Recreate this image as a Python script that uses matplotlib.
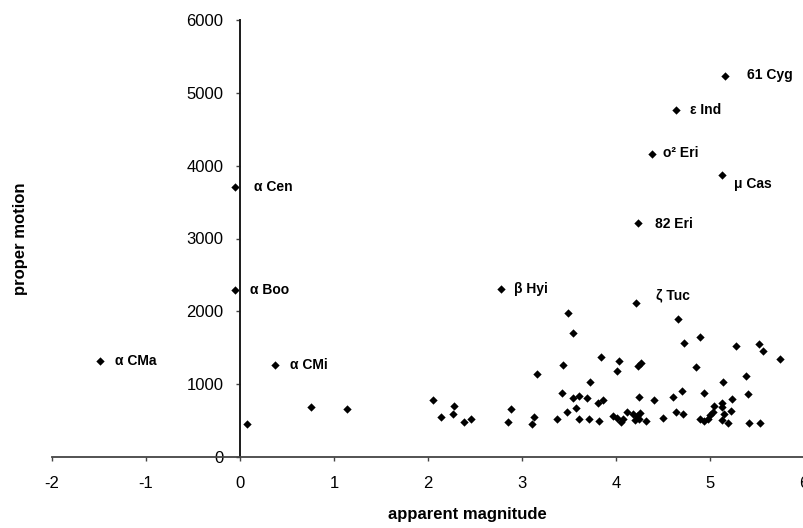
import matplotlib.pyplot as plt

# named stars: apparent magnitude vs proper motion
star_names = ["\u03b1 CMa", "\u03b1 Cen", "\u03b1 Boo", "\u03b1 CMi", "\u03b2 Hyi", "\u03b6 Tuc",
              "61 Cyg", "\u03b5 Ind", "\u03bf\u00b2 Eri", "\u03bc Cas", "82 Eri"]
star_mag = [-1.49, -0.05, -0.05, 0.37, 2.78, 4.21, 5.16, 4.64, 4.38, 5.13, 4.23]
star_pm = [1320, 3710, 2295, 1265, 2305, 2115, 5235, 4765, 4160, 3875, 3215]

# the rest of the sample, unlabelled
other_mag = [0.07, 0.76, 1.14, 2.05, 2.14, 2.28, 2.27, 2.38, 2.46, 2.85, 2.88, 3.16, 3.13, 3.11,
             3.49, 3.54, 3.44, 3.84, 4.03, 4.01, 4.27, 4.23, 4.66, 4.72, 4.89, 4.85, 5.28, 5.52,
             5.56, 5.74, 5.38, 5.14, 5.40, 3.43, 3.54, 3.61, 3.69, 3.57, 3.72, 3.81, 3.86, 3.48,
             3.37, 3.61, 3.71, 3.82, 3.97, 4.01, 4.05, 4.07, 4.12, 4.18, 4.22, 4.20, 4.26, 4.24,
             4.32, 4.24, 4.40, 4.50, 4.61, 4.70, 4.64, 4.71, 4.94, 4.89, 4.94, 4.98, 5.00, 5.03,
             5.04, 5.13, 5.13, 5.15, 5.13, 5.19, 5.22, 5.23, 5.41, 5.53]
other_pm = [455, 685, 660, 785, 550, 700, 590, 480, 520, 480, 660, 1140, 550, 455,
            1980, 1705, 1265, 1375, 1320, 1180, 1290, 1250, 1895, 1565, 1650, 1235, 1525, 1550,
            1455, 1345, 1115, 1030, 865, 880, 810, 840, 810, 675, 1030, 740, 785, 620,
            520, 520, 520, 495, 565, 535, 480, 520, 620, 590, 565, 510, 605, 520,
            495, 825, 785, 535, 825, 905, 620, 590, 880, 520, 495, 520, 575, 620,
            700, 740, 685, 590, 510, 465, 630, 795, 465, 465]

# label offsets in pixels from each named point
label_offsets = {"\u03b1 CMa": (15, 0), "\u03b1 Cen": (19, 0), "\u03b1 Boo": (15, 0),
                 "\u03b1 CMi": (15, 0), "\u03b2 Hyi": (13, 0), "\u03b6 Tuc": (20, 8),
                 "61 Cyg": (22, 1), "\u03b5 Ind": (14, 0), "\u03bf\u00b2 Eri": (11, 1),
                 "\u03bc Cas": (12, -9), "82 Eri": (17, -1)}

plt.rcParams["font.family"] = ["Liberation Sans", "DejaVu Sans"]
plt.rcParams["axes.unicode_minus"] = False

fig = plt.figure(figsize=(8.04, 5.28), dpi=100)
ax = fig.add_axes([52 / 804, 71 / 528, 752 / 804, 437 / 528])

ax.scatter(other_mag, other_pm, marker="D", s=18, color="black", linewidths=0)
ax.scatter(star_mag, star_pm, marker="D", s=18, color="black", linewidths=0)

for name, m, p in zip(star_names, star_mag, star_pm):
    dx, dy = label_offsets[name]
    ax.annotate(name, (m, p), xytext=(dx, dy), textcoords="offset pixels",
                fontsize=10, fontweight="bold", va="center", ha="left")

ax.set_xlim(-2, 6)
ax.set_ylim(0, 6000)
ax.set_xticks(range(-2, 7))
ax.set_yticks(range(0, 6001, 1000))

ax.spines["left"].set_position(("data", 0))
ax.spines["right"].set_visible(False)
ax.spines["top"].set_visible(False)
ax.spines["left"].set_linewidth(1.4)
ax.spines["left"].set_color("#1a1a1a")
ax.spines["bottom"].set_linewidth(1.3)
ax.spines["bottom"].set_color("#444444")

ax.tick_params(axis="both", direction="out", length=3, width=1, labelsize=12, color="#444444")
ax.tick_params(axis="x", pad=11)
ax.tick_params(axis="y", pad=9)

ax.set_xlabel("apparent magnitude", fontsize=12, fontweight="bold")
ax.set_ylabel("proper motion", fontsize=12, fontweight="bold")
ax.xaxis.set_label_coords(0.552, -0.115)
ax.yaxis.set_label_coords(-0.032, 0.5)

fig.savefig("out.png", dpi=100)
